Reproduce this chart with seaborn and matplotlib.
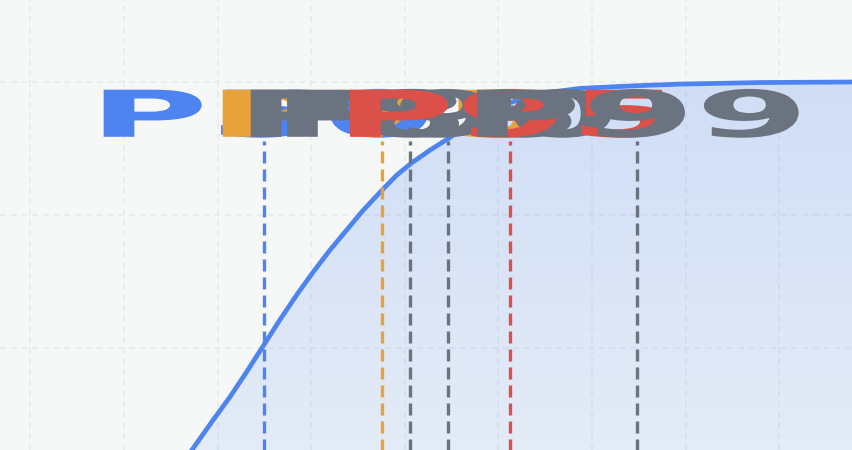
import matplotlib
matplotlib.use("Agg")
import matplotlib.pyplot as plt
import seaborn as sns
import numpy as np
from matplotlib.patches import Polygon
from matplotlib.patheffects import AbstractPathEffect
from matplotlib.transforms import Affine2D

# latency (ms) vs cumulative share of requests (%)
latency_ms = [120.0, 136.2, 147.7, 156.6, 165.5, 175.3, 183.3, 192.3, 201.1, 210.0, 219.0, 227.8,
              238.2, 245.7, 253.7, 263.5, 273.4, 282.0, 290.2, 306.2, 320.1, 343.6, 373.5, 397.0,
              440.0, 490.0]
cumulative_pct = [22.0, 30.8, 36.5, 40.8, 45.5, 50.9, 55.3, 60.0, 64.3, 68.4, 72.2, 75.9,
                  79.8, 82.5, 84.8, 87.2, 89.4, 91.6, 93.4, 96.1, 97.7, 98.8, 99.3, 99.6,
                  99.9, 100.0]

# percentile markers
pct_labels = ["P50", "P75", "P85", "P90", "P95", "P99"]
pct_values = [175, 238, 253, 273, 306, 374]
pct_colors = ["#4e84ef", "#e9a23b", "#6b7280", "#6b7280", "#dc504a", "#6b7280"]

BG = "#f6f8f8"
BLUE = "#4e84ef"


class HStretch(AbstractPathEffect):
    """widen glyphs horizontally around their own centre"""

    def __init__(self, sx):
        super().__init__()
        self.sx = sx

    def draw_path(self, renderer, gc, tpath, affine, rgbFace=None):
        ext = tpath.get_extents(affine)
        cx = (ext.x0 + ext.x1) / 2
        t = affine + Affine2D().translate(-cx, 0).scale(self.sx, 1).translate(cx, 0)
        renderer.draw_path(gc, tpath, t, rgbFace)


sns.set_theme(style="white", rc={"axes.facecolor": BG, "figure.facecolor": BG})
plt.rcParams["font.family"] = ["DejaVu Sans"]

fig = plt.figure(figsize=(8.52, 4.5), dpi=100)
ax = fig.add_axes([0, 0, 1, 1])

xlo, xhi = 33.76, 488.9
ylo, yhi = 30.83, 115.41

# gradient fill under the curve
floor = 0
verts = list(zip(latency_ms, cumulative_pct)) + [(latency_ms[-1], floor), (latency_ms[0], floor)]
area = Polygon(verts, closed=True, facecolor="none", edgecolor="none")
ax.add_patch(area)
ys = np.linspace(floor, 100, 200)
alpha = np.clip(0.11 + (ys - 30.8) / 69.2 * 0.12, 0, 1)
rgba = np.zeros((len(ys), 1, 4))
rgba[..., :3] = matplotlib.colors.to_rgb(BLUE)
rgba[:, 0, 3] = alpha
im = ax.imshow(rgba, extent=[latency_ms[0], latency_ms[-1], floor, 100],
               origin="lower", aspect="auto", zorder=1, interpolation="bilinear")
im.set_clip_path(area)

sns.lineplot(x=latency_ms, y=cumulative_pct, ax=ax, color=BLUE, linewidth=3.4,
             zorder=3, solid_capstyle="round", solid_joinstyle="round")

ax.vlines(pct_values, floor, 88.9, colors=pct_colors, linewidth=2.4,
          linestyles=[(0, (3.6, 1.8))], zorder=4)

for lab, xv, col in zip(pct_labels, pct_values, pct_colors):
    ax.text(xv, 89.7, lab, ha="center", va="baseline", fontsize=46.5,
            fontweight="bold", color=col, zorder=5,
            path_effects=[HStretch(2.53)])

ax.set_xlim(xlo, xhi)
ax.set_ylim(ylo, yhi)
ax.set_xticks(np.arange(50, 451, 50))
ax.set_yticks([50, 75, 100])
ax.grid(True, color="#e7eaee", linestyle=(0, (4, 3)), linewidth=1.1, zorder=0)
ax.set_axisbelow(True)
ax.tick_params(length=0, labelbottom=False, labelleft=False)
for s in ax.spines.values():
    s.set_visible(False)

fig.savefig("out.png", dpi=100, facecolor=BG)
